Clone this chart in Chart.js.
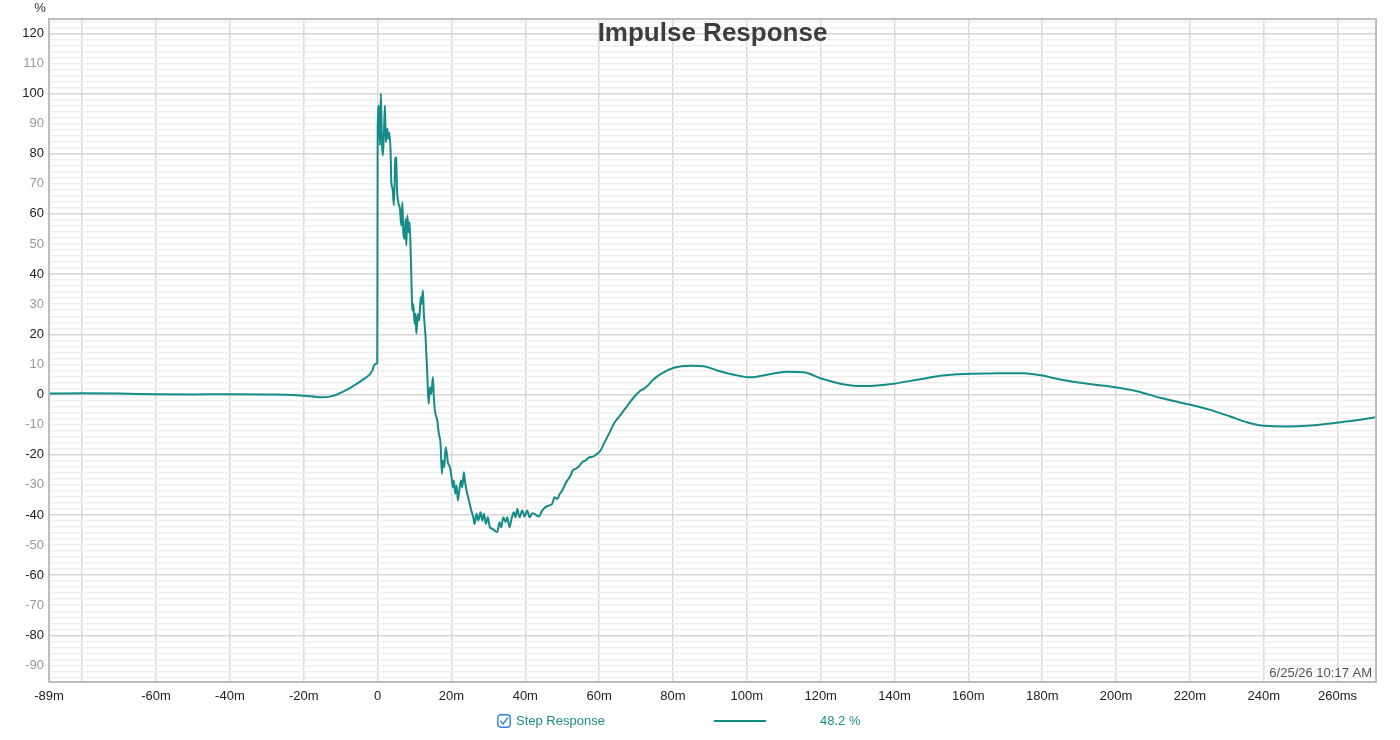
<!DOCTYPE html>
<html>
<head>
<meta charset="utf-8">
<script src="https://cdn.jsdelivr.net/npm/chart.js@4.4.1/dist/chart.umd.min.js"></script>
<style>
  html, body { margin: 0; padding: 0; background: #fff; }
  #wrap { position: relative; width: 1400px; height: 740px; font-family: "Liberation Sans", Arial, sans-serif; }
  #c { position: absolute; left: 0; top: 0; }
  .lg { position: absolute; font-size: 13px; color: #1d8c89; line-height: 16px; }
  #cb { position: absolute; left: 497px; top: 714px; width: 14px; height: 14px; }
  #lgline { position: absolute; left: 714px; top: 720px; width: 52px; height: 2px; background: #168c88; }
</style>
</head>
<body>
<div id="wrap">
  <canvas id="c" width="1400" height="740"></canvas>
  <svg id="cb" viewBox="0 0 14 14"><rect x="0.8" y="0.8" width="12.4" height="12.4" rx="3" ry="3" fill="#fff" stroke="#2f80e6" stroke-width="1.4"/><path d="M3.6 7.3 L6.1 9.9 L10.6 4" fill="none" stroke="#2f80e6" stroke-width="1.5" stroke-linecap="round" stroke-linejoin="round"/></svg>
  <div class="lg" style="left:516px; top:713px;">Step Response</div>
  <div id="lgline"></div>
  <div class="lg" style="left:820px; top:713px;">48.2 %</div>
</div>
<script>
// ---- data ----
const chartTitle = "Impulse Response";
const seriesName = "Step Response";
const timeStamp = "6/25/26 10:17 AM";
const yUnit = "%";

const timeMs = [
  -89, -80, -70, -60, -50, -40, -30, -22, -18, -15, -13, -11, -10, -8, -6.4, -3.7, -1.4, -1.0, -0.3, -0.1,
  0.0, 0.08, 0.35, 0.62, 0.89, 1.16, 1.43, 1.71, 1.98, 2.25, 2.63, 2.90, 3.17, 3.52, 3.71, 4.06, 4.41, 4.79,
  5.06, 5.22, 5.60, 6.04, 6.42, 6.69, 6.96, 7.31, 7.58, 7.77, 8.04, 8.39, 8.66, 8.93, 9.2, 9.39, 9.66, 10.02,
  10.29, 10.48, 10.91, 11.29, 11.64, 11.91, 12.26, 12.53, 12.99, 13.45, 13.81, 14.16, 14.54, 14.97, 15.24,
  15.51, 16.16, 16.59, 17.05, 17.41, 17.68, 18.06, 18.41, 18.76, 19.03, 19.57, 20.03, 20.38, 20.66, 21.03,
  21.39, 21.74, 22.12, 22.55, 22.93, 23.36, 23.63, 24.09, 24.72, 25.37, 25.91, 26.26, 26.80, 27.26, 27.88,
  28.34, 28.78, 29.32, 29.86, 30.40, 31.05, 31.75, 32.40, 33.03, 33.49, 34.03, 34.65, 35.11, 35.73, 36.27,
  36.90, 37.36, 37.82, 38.44, 39.17, 39.79, 40.52, 41.15, 41.88, 42.77, 43.67, 44.59, 45.48, 46.37, 47.29,
  47.92, 48.65, 49.35, 50.00, 50.62, 51.35, 52.25, 52.87, 53.60, 54.49, 55.41, 56.31, 57.20, 58.39, 59.48,
  60.37, 61.26, 62.18, 63.08, 63.97, 65.32, 66.68, 68.03, 69.38, 70.74, 71.2, 72.09, 73.44, 73.9, 74.6,
  76.61, 80.21, 84.73, 88.33, 91.96, 96.45, 100.97, 105.49, 110.91, 115.40, 119.92, 125.34, 130.75, 134.35,
  139.77, 146.10, 152.41, 156.93, 161.42, 165.94, 171.36, 174.96, 179.94, 184.89, 190.31, 197.54, 205.66,
  211.97, 220.09, 225.50, 230.91, 235.44, 240.12, 246.27, 252.57, 260.23, 266.11, 270.6
];
const stepPct = [
  0.3, 0.4, 0.3, 0.1, 0.0, 0.1, 0.0, -0.2, -0.6, -0.9, -0.7, 0.0, 0.6, 1.8, 3.0, 5.2, 8.0, 9.6, 10.2, 10.5,
  80.5, 91.6, 96.0, 82.7, 100.0, 83.8, 79.4, 87.0, 96.0, 83.8, 88.3, 85.0, 87.0, 80.5, 70.5, 68.3, 62.8, 78.3,
  78.8, 69.4, 63.9, 61.7, 56.1, 63.9, 53.9, 51.7, 58.4, 49.5, 59.5, 53.9, 57.2, 48.4, 36.0, 27.9, 30.1, 23.5,
  26.8, 20.2, 26.8, 24.6, 32.3, 30.1, 34.6, 26.8, 19.0, 6.9, -3.1, 2.4, 0.2, 5.8, -0.9,
  -5.3, -8.6, -13.0, -16.4, -26.3, -21.9, -24.1, -17.5, -19.7, -22.5, -24.1, -27.5, -30.8, -28.6, -33.0,
  -30.2, -35.2, -31.9, -28.6, -30.8, -25.8, -28.6, -31.9, -35.2, -38.5, -40.8, -43.0, -39.6, -41.9, -39.1,
  -41.9, -39.6, -43.0, -40.8, -44.1, -44.6, -45.2, -45.7, -42.4, -44.1, -40.8, -42.4, -40.8, -44.1, -41.3,
  -39.1, -40.8, -38.0, -40.8, -38.5, -40.5, -38.5, -40.8, -39.4, -39.9, -40.5, -38.5, -37.4, -36.9, -36.3,
  -34.1, -34.7, -33.0, -31.9, -30.2, -28.6, -26.9, -25.2, -24.7, -23.9, -22.5, -21.9, -21.0, -20.6, -19.7,
  -18.6, -16.4, -14.2, -12.0, -9.7, -7.5, -5.3, -3.1, -0.9, 0.8, 1.3, 1.9, 3.3, 4.0, 4.9,
  6.8, 8.9, 9.6, 9.4, 8.0, 6.6, 5.7, 6.6, 7.6, 7.4, 5.4, 3.6, 2.8, 2.9,
  3.6, 4.9, 6.2, 6.7, 6.9, 7.0, 7.1, 7.1, 6.3, 5.0, 3.9, 2.8, 1.1,
  -1.1, -3.4, -5.1, -7.3, -9.2, -10.4, -10.6, -10.3, -9.3, -8.4, -7.5
];
const xTickValues = [-89, -80, -60, -40, -20, 0, 20, 40, 60, 80, 100, 120, 140, 160, 180, 200, 220, 240, 260];
const xMin = -89, xMax = 270.4;
const yMin = -95.5, yMax = 124.75;
const yMinorStep = 2;

// ---- chart ----
const FONT = '"Liberation Sans", Arial, sans-serif';
const TEAL = '#168c88';
const points = timeMs.map((t, i) => ({ x: t, y: stepPct[i] }));

const overlay = {
  id: 'overlay',
  afterDraw(chart) {
    const { ctx, chartArea: a } = chart;
    ctx.save();
    ctx.strokeStyle = '#bdbdbd';
    ctx.lineWidth = 2;
    ctx.strokeRect(a.left, a.top, a.right - a.left, a.bottom - a.top);
    ctx.fillStyle = '#3d3d3d';
    ctx.font = 'bold 26px ' + FONT;
    ctx.textAlign = 'center';
    ctx.textBaseline = 'middle';
    ctx.fillText(chartTitle, (a.left + a.right) / 2, 34);
    ctx.fillStyle = '#555';
    ctx.font = '13px ' + FONT;
    ctx.textAlign = 'right';
    ctx.textBaseline = 'alphabetic';
    ctx.fillText(timeStamp, a.right - 4, a.bottom - 5);
    ctx.fillStyle = '#333';
    ctx.textAlign = 'center';
    ctx.textBaseline = 'middle';
    ctx.fillText(yUnit, 40, 8);
    ctx.restore();
  }
};

new Chart(document.getElementById('c'), {
  type: 'line',
  data: {
    datasets: [{
      label: seriesName,
      data: points,
      borderColor: TEAL,
      borderWidth: 2,
      pointRadius: 0,
      fill: false,
      cubicInterpolationMode: 'monotone'
    }]
  },
  options: {
    responsive: false,
    animation: false,
    layout: { padding: { top: 19, right: 24, bottom: 0, left: 0 } },
    plugins: { legend: { display: false }, tooltip: { enabled: false }, title: { display: false } },
    scales: {
      x: {
        type: 'linear',
        min: xMin, max: xMax,
        afterBuildTicks(scale) { scale.ticks = xTickValues.map(v => ({ value: v })); },
        afterFit(scale) { scale.height = 58; },
        grid: {
          drawTicks: false,
          lineWidth: 1.5,
          color: (c) => (c.tick && c.tick.value === xMin) ? 'rgba(0,0,0,0)' : '#d9d9d9'
        },
        border: { display: true, color: '#bdbdbd', width: 2 },
        ticks: {
          autoSkip: false,
          maxRotation: 0,
          padding: 7,
          color: '#222',
          font: { family: FONT, size: 13 },
          callback(v) {
            if (v === -80) return '';
            if (v === 0) return '0';
            if (v === 260) return '260ms';
            return v + 'm';
          }
        }
      },
      y: {
        type: 'linear',
        min: yMin, max: yMax,
        afterBuildTicks(scale) {
          const t = [];
          for (let v = -94; v <= 124; v += yMinorStep) t.push({ value: v });
          scale.ticks = t;
        },
        afterFit(scale) { scale.width = 49; },
        grid: {
          drawTicks: false,
          lineWidth: 1.5,
          color: (c) => (c.tick && c.tick.value % 20 === 0) ? '#d6d6d6' : '#efefef'
        },
        border: { display: true, color: '#bdbdbd', width: 2 },
        ticks: {
          autoSkip: false,
          padding: 5,
          font: { family: FONT, size: 13 },
          color: (c) => (c.tick && c.tick.value % 20 === 0) ? '#222' : '#999',
          callback(v) { return (v % 10 === 0) ? String(v) : ''; }
        }
      }
    }
  },
  plugins: [overlay]
});
</script>
</body>
</html>
